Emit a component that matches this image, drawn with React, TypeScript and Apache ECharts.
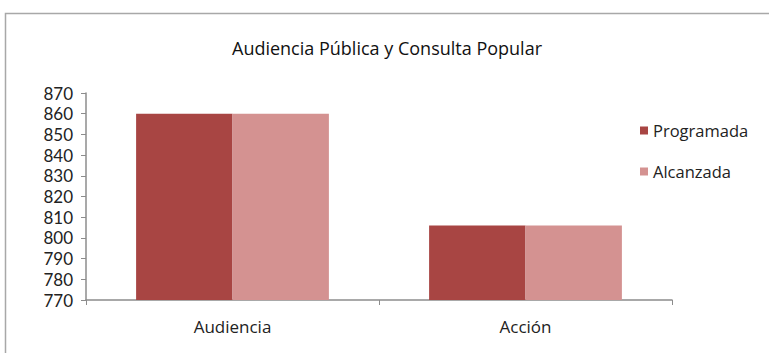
import React, { useEffect, useRef } from "react";
import * as echarts from "echarts";

const categories = ["Audiencia", "Acción"];
const programada = [860, 806];
const alcanzada = [860, 806];
const seriesNames = ["Programada", "Alcanzada"];
const title = "Audiencia Pública y Consulta Popular";

export default function App() {
  const ref = useRef<HTMLDivElement>(null);
  useEffect(() => {
    document.body.style.margin = "0";
    const chart = echarts.init(ref.current!, null, { renderer: "svg" });
    const font = "'Open Sans', Lato, sans-serif";
    const tickFont = "Lato, 'Open Sans', sans-serif";
    chart.setOption({
      animation: false,
      backgroundColor: "#ffffff",
      textStyle: { fontFamily: font },
      title: {
        text: title,
        left: 382,
        textAlign: "center",
        top: 33,
        textStyle: { fontSize: 18, lineHeight: 20, fontWeight: "normal", color: "#111", fontFamily: font },
      },
      graphic: [
        {
          type: "rect",
          shape: { x: 5.5, y: 13.5, width: 800, height: 400 },
          style: { fill: "none", stroke: "#a8a8a8", lineWidth: 1.5 },
          silent: true,
        },
      ],
      legend: {
        orient: "vertical",
        left: 640,
        top: 122,
        padding: 0,
        itemWidth: 8,
        itemHeight: 8,
        itemGap: 24,
        icon: "rect",
        textStyle: { fontSize: 16.5, lineHeight: 17, color: "#222", fontFamily: font, padding: [0, 0, 0, 0] },
        data: seriesNames,
      },
      grid: { left: 86, top: 93, right: 97, bottom: 53 },
      xAxis: {
        type: "category",
        data: categories,
        axisLine: { lineStyle: { color: "#8c8c8c", width: 1.5 } },
        axisTick: { show: true, length: 5, lineStyle: { color: "#8c8c8c" } },
        axisLabel: { fontSize: 17, lineHeight: 18, color: "#222", margin: 17, fontFamily: font },
      },
      yAxis: {
        type: "value",
        min: 770,
        max: 870,
        interval: 10,
        axisLine: { show: true, lineStyle: { color: "#8c8c8c", width: 1.5 } },
        axisTick: { show: true, length: 5, lineStyle: { color: "#8c8c8c" } },
        splitLine: { show: false },
        axisLabel: { fontSize: 17, lineHeight: 17, color: "#222", margin: 13, fontFamily: tickFont },
      },
      series: [
        {
          name: seriesNames[0],
          type: "bar",
          data: programada,
          barGap: "0%",
          barCategoryGap: "34.2%",
          itemStyle: { color: "#A84543" },
        },
        {
          name: seriesNames[1],
          type: "bar",
          data: alcanzada,
          barGap: "0%",
          barCategoryGap: "34.2%",
          itemStyle: { color: "#D49291" },
        },
      ],
    });
    return () => chart.dispose();
  }, []);
  return <div ref={ref} style={{ width: 769, height: 353 }} />;
}
